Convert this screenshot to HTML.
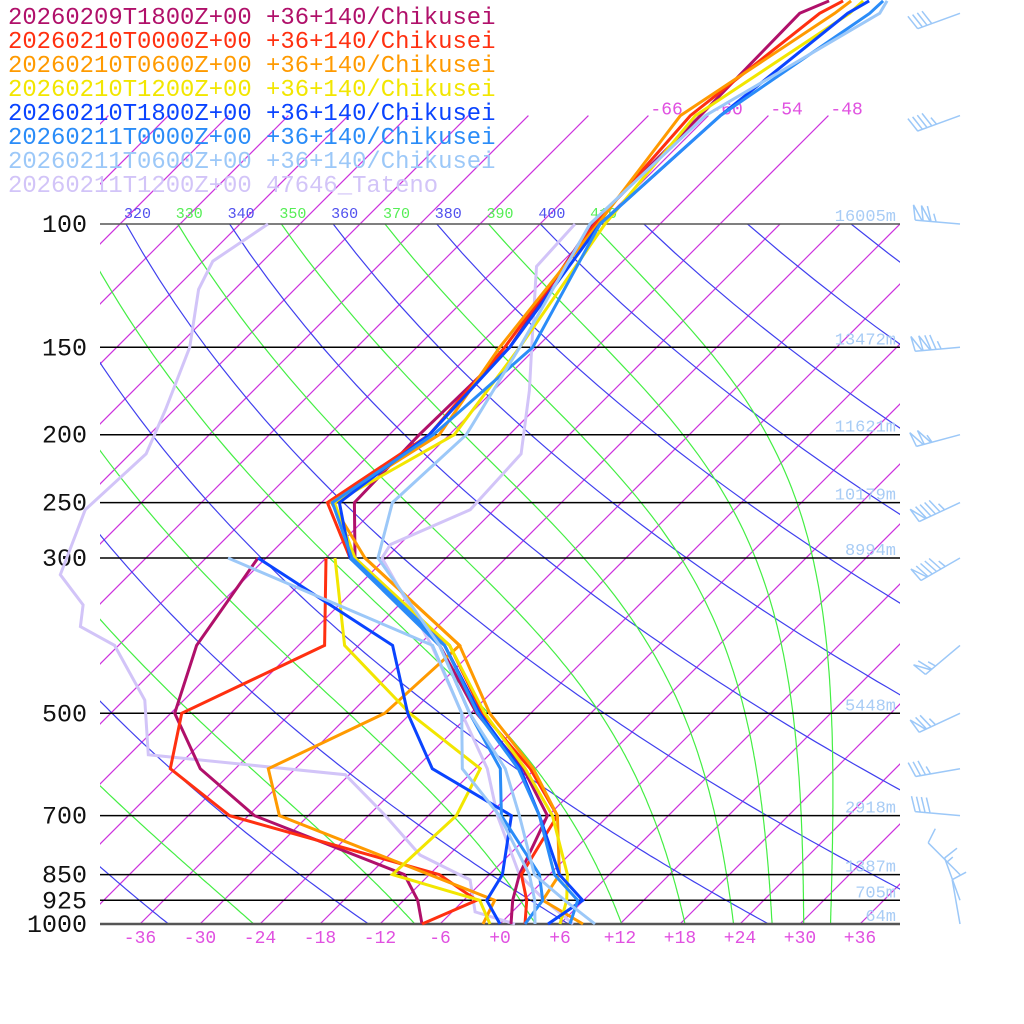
<!DOCTYPE html>
<html><head><meta charset="utf-8"><title>Skew-T</title>
<style>
html,body{margin:0;padding:0;background:#fff;}
svg{display:block;}
text{font-family:"Liberation Mono",monospace;}
</style></head>
<body>
<svg id="chart" width="1024" height="1024" viewBox="0 0 1024 1024" xmlns="http://www.w3.org/2000/svg">
<defs>
<clipPath id="plotclip"><rect x="100" y="224" width="800" height="700"/></clipPath>
<clipPath id="upperclip"><rect x="100" y="100" width="800" height="824"/></clipPath>
</defs>
<g id="bg"></g>
<g id="grid"></g>
<g id="series"></g>
<g id="barbs"></g>
<g id="legend"></g>
</svg>
<script>
// ---- data ----
const pressureLevels = [100,150,200,250,300,500,700,850,925,1000];
const heightLabels = ["16005m","13472m","11621m","10179m","8994m","5448m","2918m","1387m","705m","64m"];
const tempTicks = [-36,-30,-24,-18,-12,-6,0,6,12,18,24,30,36];
const isoLabels = [-66,-60,-54,-48];
const dryThetas = [200,220,240,260,280,300,320,340,360,380,400,420,440,460,480,500,520,540,560,580,600];
const moistThetas = [250,270,290,310,330,350,370,390,410];
const thetaLabelVals = [310,320,330,340,350,360,370,380,390,400,410];

const modelLevels = [1000,925,850,700,600,500,400,300,250,200,150,100,70,50,48];
const dewLevels = [1000,925,850,700,600,500,400,300];
const crimsonT = [1.1,-1.1,-3.0,-6.1,-13.2,-23.4,-33.9,-51.1,-56.7,-57.0,-56.7,-60.8,-60.8,-61.1,-59.4];
const crimsonTd = [-7.8,-10.6,-14.5,-35.4,-45.5,-53.6,-58.2,-60.8];
const redT = [2.5,0.3,-2.8,-5.1,-12.5,-22.8,-32.9,-51.6,-59.4,-56.0,-57.2,-60.5,-61.8,-59.1,-58.0];
const redTd = [-7.8,-4.7,-11.0,-37.9,-48.5,-52.9,-45.4,-54.0];
const orangeT = [8.3,1.9,1.0,-5.1,-12.2,-22.1,-31.9,-50.1,-59.0,-55.0,-57.7,-60.2,-62.8,-57.6,-57.2];
const orangeTd = [-1.7,-2.9,-12.0,-32.9,-38.7,-32.6,-31.9,-50.1];
const yellowT = [6.0,4.3,1.8,-5.6,-13.0,-22.6,-32.9,-51.1,-58.7,-53.5,-55.7,-59.5,-61.3,-56.1,-56.0];
const yellowTd = [-1.0,-4.4,-15.7,-15.2,-17.5,-30.1,-43.4,-53.1];
const blueT = [4.8,5.9,1.0,-6.9,-13.5,-23.1,-33.4,-51.6,-58.2,-56.0,-56.7,-60.0,-58.8,-56.3,-55.4];
const blueTd = [0.0,-3.7,-4.7,-9.7,-22.3,-30.3,-38.6,-60.8];
const dodgerT = [7.0,5.4,0.5,-6.9,-13.7,-23.3,-33.4,-51.4,-58.9,-55.6,-54.4,-60.0,-58.8,-54.1,-54.0];
const dodgerTd = [2.5,1.9,-1.0,-10.7,-15.5,-24.1,-33.9,-51.6];
const lightT = [9.5,4.1,-1.5,-8.9,-15.0,-24.1,-33.9,-48.8,-52.9,-52.3,-55.7,-61.0,-60.3,-53.1,-53.6];
const lightTd = [3.5,1.1,-2.0,-10.9,-19.3,-24.9,-34.6,-63.8];
const tatenoTP = [1000,925,850,700,600,500,400,300,287,256,213,173,150,115,100];
const tatenoT = [7.3,2.1,-3.0,-11.1,-16.8,-24.9,-34.7,-48.4,-48.9,-44.4,-44.9,-50.4,-54.5,-62.1,-62.5];
const tatenoTdP = [1000,961,865,797,699,612,573,479,400,376,350,317,256,213,184,150,124,113,100];
const tatenoTd = [1.5,-3.7,-7.4,-14.9,-22.4,-30.4,-52.1,-57.9,-66.4,-71.7,-73.6,-78.9,-82.9,-82.4,-84.9,-88.7,-93.6,-95.0,-93.2];

const legendNames = ["20260209T1800Z+00 +36+140/Chikusei","20260210T0000Z+00 +36+140/Chikusei","20260210T0600Z+00 +36+140/Chikusei","20260210T1200Z+00 +36+140/Chikusei","20260210T1800Z+00 +36+140/Chikusei","20260211T0000Z+00 +36+140/Chikusei","20260211T0600Z+00 +36+140/Chikusei","20260211T1200Z+00 47646_Tateno"];
const seriesColors = ["#b0106a","#ff3010","#ff9a00","#f2e600","#0a44ff","#2a8cf8","#9cc8f8","#d2c4f8"];

const windP = [50,70,100,150,200,250,300,400,500,600,700,850,925,1000];
const windDir = [250,250,275,265,255,245,240,230,245,260,275,315,340,350];
const windSpd = [40,45,115,125,105,95,95,65,75,35,40,10,15,10];

// ---- axes ----
const NS = "http://www.w3.org/2000/svg";
function yOf(p){ return 924 - 304*Math.log(1000/p); }
function xOf(T,p){ return 500 + 10*T + 304*Math.log(1000/p); }
function mk(tag, attrs, parent){ const e=document.createElementNS(NS,tag); for(const k in attrs) e.setAttribute(k,attrs[k]); parent.appendChild(e); return e; }

const bg = document.getElementById('bg');
const gIso = mk('g',{'clip-path':'url(#upperclip)'},bg);
const gAd = mk('g',{'clip-path':'url(#plotclip)'},bg);

for(let T=-150; T<=60; T+=6){
  const pTop = (T<=-48) ? 70 : 100;
  const l = mk('line',{x1:xOf(T,1000),y1:yOf(1000),x2:xOf(T,pTop),y2:yOf(pTop),stroke:'#cc33dd','stroke-width':1.2},gIso);
  
  
}
isoLabels.forEach(T=>{
  const t = mk('text',{x:xOf(T,70)+2,y:yOf(70)-1,fill:'#e050e0','font-size':18},bg);
  t.textContent = String(T);
  
  
});
dryThetas.forEach(th=>{
  let d='';
  for(let p=100;p<=1000;p+=10){ const T=th*Math.pow(p/1000,0.2857)-273.15; d+=(d?'L':'M')+xOf(T,p).toFixed(1)+','+yOf(p).toFixed(1); }
  const e = mk('path',{d:d,fill:'none',stroke:'#4040ee','stroke-width':1.2},gAd);
  
  
});
function moistPath(th){
  const Rd=287.04,cp=1005.7,Lv=2.5e6,eps=0.622;
  let T=th*Math.pow(0.1,0.2857); let p=100; const pts=[[T,p]];
  const f=(T,p)=>{const Tc=T-273.15;const es=6.112*Math.exp(17.67*Tc/(Tc+243.5));const rs=eps*es/Math.max(p-es,1);return (Rd*T+Lv*rs)/(p*(cp+Lv*Lv*rs*eps/(Rd*T*T)));};
  const h=2;
  while(p<1000){ const k1=f(T,p),k2=f(T+h*k1/2,p+h/2),k3=f(T+h*k2/2,p+h/2),k4=f(T+h*k3,p+h); T+=h*(k1+2*k2+2*k3+k4)/6; p+=h; pts.push([T,p]); }
  return pts;
}
moistThetas.forEach(th=>{
  const pts=moistPath(th); let d='';
  pts.forEach((q,i)=>{ if(i%3===0||i===pts.length-1) d+=(d?'L':'M')+xOf(q[0]-273.15,q[1]).toFixed(1)+','+yOf(q[1]).toFixed(1); });
  const e = mk('path',{d:d,fill:'none',stroke:'#44ee44','stroke-width':1.2},gAd);
  
  
});
const gTh = mk('g',{'clip-path':'url(#upperclip)'},bg);
thetaLabelVals.forEach(th=>{
  const T=th*Math.pow(0.1,0.2857)-273.15;
  const t = mk('text',{x:xOf(T,100)-2,y:218,fill:(th%20===0)?'#5050ee':'#55ee55','font-size':15},gTh);
  t.textContent=String(th);
  
  
});

const grid = document.getElementById('grid');
pressureLevels.forEach((p,i)=>{
  const y=yOf(p);
  const l = mk('line',{x1:100,y1:y,x2:900,y2:y,stroke:(p===1000||p===100)?'#555':'#000','stroke-width':(p===1000)?2.5:1.5},grid);
  
  
  const t = mk('text',{x:87,y:y+8,fill:'#111','font-size':25,'text-anchor':'end'},grid);
  t.textContent=String(p);
  
  
  const h = mk('text',{x:896,y:y-3,fill:'#a8ccf5','font-size':17,'text-anchor':'end'},grid);
  h.textContent=heightLabels[i];
  
  
});
tempTicks.forEach(T=>{
  const t = mk('text',{x:xOf(T,1000),y:943,fill:'#e050e0','font-size':18,'text-anchor':'middle'},grid);
  t.textContent=(T>=0?'+':'')+T;
  
  
});

const gS = document.getElementById('series');
function poly(levels, vals, color, name){
  const pts = levels.map((p,i)=>xOf(vals[i],p).toFixed(1)+','+yOf(p).toFixed(1)).join(' ');
  const e = mk('polyline',{points:pts,fill:'none',stroke:color,'stroke-width':3,'stroke-linejoin':'miter'},gS);
  
  
}
poly(tatenoTdP,tatenoTd,seriesColors[7],'tateno-dewpoint');
poly(tatenoTP,tatenoT,seriesColors[7],'tateno-temperature');
const modelT=[crimsonT,redT,orangeT,yellowT,blueT,dodgerT,lightT];
const modelTd=[crimsonTd,redTd,orangeTd,yellowTd,blueTd,dodgerTd,lightTd];
for(let i=0;i<7;i++){
  poly(dewLevels,modelTd[i],seriesColors[i],'dewpoint-line-'+(i+1));
  poly(modelLevels,modelT[i],seriesColors[i],'temperature-line-'+(i+1));
}

const gB = document.getElementById('barbs');
windP.forEach((p,i)=>{
  const bx=960, by=yOf(p);
  const a=windDir[i]*Math.PI/180;
  const ux=Math.sin(a), uy=-Math.cos(a);
  const L=45;
  const tx=bx+ux*L, ty=by+uy*L;
  const px=-uy, py=ux;
  let fx=(py<0)?px:-px, fy=(py<0)?py:-py;
  if(Math.abs(py)<0.2){ fx=px; fy=py; }
  let d='M'+bx+','+by.toFixed(1)+'L'+tx.toFixed(1)+','+ty.toFixed(1);
  let s=windSpd[i]; let pos=0;
  while(s>=50){ const ax=tx-ux*pos, ay=ty-uy*pos; const cx=tx-ux*(pos+7), cy=ty-uy*(pos+7);
    d+='M'+ax.toFixed(1)+','+ay.toFixed(1)+'L'+(ax+fx*15+ux*3).toFixed(1)+','+(ay+fy*15+uy*3).toFixed(1)+'L'+cx.toFixed(1)+','+cy.toFixed(1); pos+=8; s-=50; }
  while(s>=10){ const ax=tx-ux*pos, ay=ty-uy*pos; d+='M'+ax.toFixed(1)+','+ay.toFixed(1)+'l'+(fx*15+ux*5).toFixed(1)+','+(fy*15+uy*5).toFixed(1); pos+=5; s-=10; }
  if(s>=5){ const ax=tx-ux*pos, ay=ty-uy*pos; d+='M'+ax.toFixed(1)+','+ay.toFixed(1)+'l'+(fx*8+ux*3).toFixed(1)+','+(fy*8+uy*3).toFixed(1); }
  const e = mk('path',{d:d,fill:'none',stroke:'#9cc8f8','stroke-width':1.5},gB);
  
  
});

const gL = document.getElementById('legend');
legendNames.forEach((n,i)=>{
  const t = mk('text',{x:8,y:24+24*i,fill:seriesColors[i],'font-size':23.9},gL);
  t.textContent=n;
  
  
});
</script>
</body></html>
